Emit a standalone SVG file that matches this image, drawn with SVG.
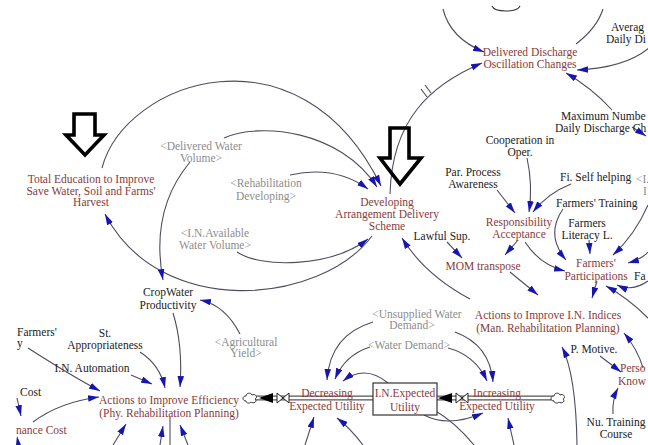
<svg xmlns="http://www.w3.org/2000/svg" width="648" height="445" viewBox="0 0 648 445">
<style>
  text { font-family: "Liberation Serif", "Times New Roman", serif; font-size: 11.5px; }
  .v { fill: #8a3a3a; text-anchor: middle; }
  .vs { fill: #8a3a3a; }
  .a { fill: #222; text-anchor: middle; }
  .as { fill: #222; }
  .s { fill: #8c8c8c; text-anchor: middle; }
  .ss { fill: #8c8c8c; }
  .c { fill: none; stroke: #4d4d62; stroke-width: 1.1; }
  .ca { fill: none; stroke: #4d4d62; stroke-width: 1.1; marker-end: url(#ah); }
  .big { fill: none; stroke: #000; stroke-width: 3.6; stroke-linejoin: miter; }
  .pipeo { fill: none; stroke: #555; stroke-width: 5.2; }
  .pipei { fill: none; stroke: #fff; stroke-width: 2.6; }
  .cloud { fill: #fff; stroke: #333; stroke-width: 1; }
  .valve { fill: #fff; stroke: #222; stroke-width: 1; }
</style>
<defs>
  <marker id="ah" viewBox="0 0 10 6" refX="10" refY="3" markerWidth="11" markerHeight="7" markerUnits="userSpaceOnUse" orient="auto">
    <path d="M0,0 L10,3 L0,6 Z" fill="#1717b0"/>
  </marker>
  <path id="cloud" d="M-4,3 C-8,3 -8,-2 -4,-2 C-4,-5 1,-6 2,-3 C6,-5 8,0 5,1 C8,4 3,6 1,4 C-1,6 -4,5 -4,3 Z"/>
</defs>

<rect width="648" height="445" fill="#fff"/>

<!-- connectors -->
<g id="connectors">
  <!-- feedback arcs around the delivery scheme -->
  <path class="ca" d="M102,168 C125,80 300,20 381,186"/>
  <path class="ca" d="M224,138 C260,122 340,130 377,187"/>
  <path class="ca" d="M290,175 Q335,165 368,189"/>
  <path class="ca" d="M237,252 C260,268 330,268 368,239"/>
  <path class="ca" d="M372,236 C320,305 160,320 105,214"/>
  <path class="ca" d="M390,194 C392,120 430,85 482,63"/>
  <path class="c" d="M421,89 L427,97 M425,85 L431,93"/>
  <path class="ca" d="M470,299 Q425,275 402,238"/>

  <!-- discharge oscillation -->
  <path d="M492,6 Q494,11 506,11 Q518,11 520,6" fill="none" stroke="#333" stroke-width="1.1"/>
  <path class="ca" d="M443,9 Q450,38 484,52"/>
  <path class="c" d="M576,44 Q597,28 603,9"/>
  <path class="ca" d="M649,48 Q625,68 577,70"/>
  <path class="ca" d="M612,110 Q592,88 566,73"/>
  <path class="ca" d="M632,127 L646,136"/>

  <!-- responsibility and participation -->
  <path class="ca" d="M527,158 Q533,185 529,212"/>
  <path class="ca" d="M497,190 L515,213"/>
  <path class="ca" d="M571,184 Q548,193 533,212"/>
  <path class="ca" d="M518,240 L505,255"/>
  <path class="ca" d="M447,242 L462,258"/>
  <path class="ca" d="M525,242 Q540,265 565,271"/>
  <path class="ca" d="M563,209 Q545,235 566,260"/>
  <path class="ca" d="M589,240 L590,254"/>
  <path class="ca" d="M648,205 Q635,235 613,255"/>
  <path class="ca" d="M648,252 Q642,259 628,263"/>
  <path class="ca" d="M648,281 Q632,292 617,285"/>
  <path class="ca" d="M648,318 Q628,298 606,286"/>
  <path class="ca" d="M597,281 L592,298"/>
  <path class="ca" d="M510,272 L538,295"/>

  <!-- I.N. indices side -->
  <path class="ca" d="M600,356 L621,372"/>
  <path class="ca" d="M643,368 Q638,350 624,333"/>
  <path class="ca" d="M613,414 Q612,400 618,388"/>
  <path class="ca" d="M577,445 Q576,375 562,347"/>

  <!-- expected utility flows -->
  <path class="ca" d="M373,322 Q330,335 327,380"/>
  <path class="ca" d="M370,347 Q345,355 335,379"/>
  <path class="ca" d="M388,383 Q365,364 343,381"/>
  <path class="ca" d="M455,332 Q490,345 493,382"/>
  <path class="ca" d="M448,348 Q475,355 487,381"/>
  <path class="ca" d="M424,415 Q448,428 483,413"/>
  <path class="c" d="M434,410 Q455,422 474,445"/>
  <path class="ca" d="M305,445 L314,417"/>
  <path class="ca" d="M363,445 Q350,428 337,418"/>
  <path class="ca" d="M514,445 L508,418"/>

  <!-- efficiency actions -->
  <path class="ca" d="M28,348 Q70,375 100,391"/>
  <path class="ca" d="M33,422 Q60,402 99,397"/>
  <path class="ca" d="M131,375 L152,384"/>
  <path class="ca" d="M140,352 Q160,365 165,388"/>
  <path class="ca" d="M173,313 Q183,345 180,387"/>
  <path class="ca" d="M113,445 L126,424"/>
  <path class="ca" d="M160,445 L163,426"/>
  <path class="c" d="M170,417 L170,445"/>
  <path class="ca" d="M188,445 L180,425"/>
  <path class="ca" d="M17,398 L21,416"/>
  <path d="M16,445 L17,436 L21,445 Z" fill="#1717b0"/>

  <!-- crop water productivity -->
  <path class="ca" d="M190,162 Q150,210 163,280"/>
  <path class="ca" d="M240,334 Q225,305 200,300"/>

  <!-- flow pipes -->
  <path class="pipeo" d="M252,398 H373"/>
  <path class="pipei" d="M252,398 H373"/>
  <path class="pipeo" d="M437,398 H553"/>
  <path class="pipei" d="M437,398 H553"/>
  <path d="M259,398 L273,393 L273,403 Z" fill="#000"/>
  <path d="M438,398 L452,393 L452,403 Z" fill="#000"/>
</g>

<!-- emphasis arrows -->
<g id="arrow-left">
  <path class="big" d="M74,114 H95 V135 H104 L85,155 L66,135 H74 Z"/>
</g>
<g id="arrow-right">
  <path class="big" d="M390,128 H409 V158 H421 L400,184 L380,158 H390 Z"/>
</g>

<!-- flow valves and clouds -->
<g id="flow-decreasing-valve">
  <path class="valve" d="M277,393 L283,398 L277,403 Z M289,393 L283,398 L289,403 Z"/>
  <use href="#cloud" class="cloud" x="250" y="398"/>
</g>
<g id="flow-increasing-valve">
  <path class="valve" d="M456,393 L462,398 L456,403 Z M468,393 L462,398 L468,403 Z"/>
  <use href="#cloud" class="cloud" x="558" y="398"/>
</g>

<!-- stock -->
<g id="stock-expected-utility">
  <rect x="373" y="383" width="64" height="32" fill="#fff" stroke="#333" stroke-width="1.2"/>
  <text class="v" x="405" y="397">I.N.Expected</text>
  <text class="v" x="405" y="411">Utility</text>
</g>

<!-- variables -->
<g id="delivered-discharge">
  <text class="v" x="530" y="56">Delivered Discharge</text>
  <text class="v" x="530" y="68">Oscillation Changes</text>
</g>
<g id="average-daily">
  <text class="as" x="611" y="31">Averag</text>
  <text class="as" x="606" y="43">Daily Di</text>
</g>
<g id="maximum-number">
  <text class="as" x="561" y="120">Maximum Numbe</text>
  <text class="as" x="555" y="132">Daily Discharge Ch</text>
</g>
<g id="cooperation">
  <text class="a" x="520" y="144">Cooperation in</text>
  <text class="a" x="520" y="156">Oper.</text>
</g>
<g id="process-awareness">
  <text class="a" x="473" y="176">Par. Process</text>
  <text class="a" x="473" y="188">Awareness</text>
</g>
<g id="self-helping">
  <text class="as" x="560" y="181">Fi. Self helping</text>
</g>
<g id="shadow-right">
  <text class="ss" x="636" y="183">&lt;I.</text>
  <text class="ss" x="643" y="195">I</text>
</g>
<g id="farmers-training">
  <text class="as" x="556" y="207">Farmers' Training</text>
</g>
<g id="farmers-literacy">
  <text class="a" x="587" y="227">Farmers</text>
  <text class="a" x="587" y="239">Literacy L.</text>
</g>
<g id="farmers-participations">
  <text class="v" x="596" y="267">Farmers'</text>
  <text class="v" x="596" y="280">Participations</text>
</g>
<g id="fa-right">
  <text class="as" x="634" y="280">Fa</text>
</g>
<g id="responsibility">
  <text class="v" x="519" y="226">Responsibility</text>
  <text class="v" x="519" y="238">Acceptance</text>
</g>
<g id="lawful-sup">
  <text class="a" x="442" y="240">Lawful Sup.</text>
</g>
<g id="mom-transpose">
  <text class="v" x="483" y="270">MOM transpose</text>
</g>
<g id="developing-scheme">
  <text class="v" x="387" y="206">Developing</text>
  <text class="v" x="387" y="218">Arrangement Delivery</text>
  <text class="v" x="387" y="230">Scheme</text>
</g>
<g id="total-education">
  <text class="v" x="91" y="183">Total Education to Improve</text>
  <text class="v" x="91" y="195">Save Water, Soil and Farms'</text>
  <text class="v" x="91" y="206">Harvest</text>
</g>
<g id="delivered-water-volume">
  <text class="s" x="201" y="150">&lt;Delivered Water</text>
  <text class="s" x="201" y="162">Volume&gt;</text>
</g>
<g id="rehabilitation-developing">
  <text class="s" x="266" y="187">&lt;Rehabilitation</text>
  <text class="s" x="266" y="200">Developing&gt;</text>
</g>
<g id="available-water-volume">
  <text class="s" x="215" y="237">&lt;I.N.Available</text>
  <text class="s" x="215" y="249">Water Volume&gt;</text>
</g>
<g id="cropwater-productivity">
  <text class="a" x="168" y="296">CropWater</text>
  <text class="a" x="168" y="309">Productivity</text>
</g>
<g id="agricultural-yield">
  <text class="s" x="246" y="346">&lt;Agricultural</text>
  <text class="s" x="246" y="357">Yield&gt;</text>
</g>
<g id="farmers-left">
  <text class="as" x="17" y="336">Farmers'</text>
  <text class="as" x="17" y="347">y</text>
</g>
<g id="st-appropriateness">
  <text class="a" x="105" y="337">St.</text>
  <text class="a" x="105" y="349">Appropriateness</text>
</g>
<g id="in-automation">
  <text class="a" x="92" y="372">I.N. Automation</text>
</g>
<g id="cost">
  <text class="as" x="20" y="396">Cost</text>
</g>
<g id="maintenance-cost">
  <text class="vs" x="16" y="434">nance Cost</text>
</g>
<g id="actions-efficiency">
  <text class="v" x="169" y="404">Actions to Improve Efficiency</text>
  <text class="v" x="169" y="417">(Phy. Rehabilitation Planning)</text>
</g>
<g id="decreasing-utility">
  <text class="v" x="327" y="397">Decreasing</text>
  <text class="v" x="327" y="410">Expected Utility</text>
</g>
<g id="increasing-utility">
  <text class="v" x="497" y="397">Increasing</text>
  <text class="v" x="497" y="410">Expected Utility</text>
</g>
<g id="unsupplied-water-demand">
  <text class="s" x="417" y="318">&lt;Unsupplied Water</text>
  <text class="s" x="412" y="329">Demand&gt;</text>
</g>
<g id="water-demand">
  <text class="s" x="409" y="349">&lt;Water Demand&gt;</text>
</g>
<g id="actions-indices">
  <text class="v" x="548" y="319">Actions to Improve I.N. Indices</text>
  <text class="v" x="548" y="332">(Man. Rehabilitation Planning)</text>
</g>
<g id="p-motive">
  <text class="a" x="594" y="353">P. Motive.</text>
</g>
<g id="personal-knowledge">
  <text class="vs" x="620" y="372">Perso</text>
  <text class="vs" x="618" y="385">Know</text>
</g>
<g id="training-course">
  <text class="a" x="616" y="426">Nu. Training</text>
  <text class="a" x="616" y="438">Course</text>
</g>
</svg>
